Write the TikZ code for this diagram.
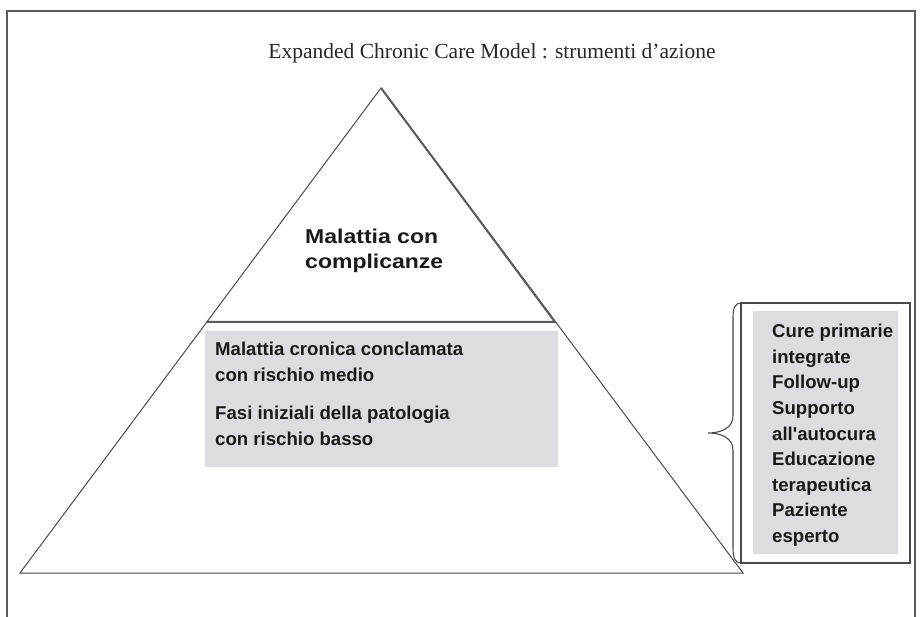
\documentclass[tikz,border=0pt]{standalone}
\usepackage{fontspec}
\setmainfont{Liberation Serif}
\setsansfont{Liberation Sans}
\definecolor{linegray}{HTML}{4A4A4A}
\definecolor{framegray}{HTML}{5A5A5A}
\definecolor{boxgray}{HTML}{DCDDE0}
\definecolor{txt}{HTML}{1A1A1A}
\begin{document}
\begin{tikzpicture}[x=1pt,y=-1pt,
  thinline/.style={draw=linegray,line width=1pt,line join=miter},
  thickline/.style={draw=framegray,line width=2pt},
  bodytext/.style={inner sep=0pt,text=txt,align=left,font=\sffamily\bfseries\fontsize{18.6}{26}\selectfont}]
\useasboundingbox (0,0) rectangle (921,617);
% frame
\draw[draw=framegray,line width=1.8pt] (7,617) -- (7,11) -- (915,11) -- (915,617);
% title
\node[anchor=base,inner sep=0pt,text=black!85,font=\fontsize{21.5}{24}\selectfont] (title) at (492,59) {Expanded Chronic Care Model : strumenti d’azione};
% pyramid
\coordinate (apex) at (381,88);
\coordinate (bl) at (20,573);
\coordinate (br) at (743,573);
\coordinate (ml) at (206,322);
\coordinate (mr) at (555,322);
\draw[thinline] (apex) -- (bl) -- (br) -- cycle;
\draw[thickline] (apex) -- (mr) -- (ml);
% gray box in pyramid
\fill[boxgray] (205,331) rectangle (558,467);
\node[bodytext,anchor=north west] (p1) at (215,342) {Malattia cronica conclamata\\con rischio medio};
\node[bodytext,anchor=north west] (p2) at (215,406) {Fasi iniziali della patologia\\con rischio basso};
% top label
\node[inner sep=0pt,anchor=north west,text=txt,align=left,font=\sffamily\bfseries\fontsize{20}{25}\selectfont,xscale=1.15] (top) at (305,229) {Malattia con\\complicanze};
% right box
\draw[draw=linegray,line width=1.5pt] (741,303) rectangle (910,563);
\fill[boxgray] (753,311) rectangle (898,554);
\node[bodytext,anchor=north west,font=\sffamily\bfseries\fontsize{18.6}{25.6}\selectfont] (tools) at (772,324) {Cure primarie\\integrate\\Follow-up\\Supporto\\all\textquotesingle autocura\\Educazione\\terapeutica\\Paziente\\esperto};
% brace
\draw[thinline,line width=1.1pt] (741,303) .. controls (735,303) and (733,308) .. (733,318) -- (733,416) .. controls (733,428) and (721,433) .. (708,433) .. controls (721,433) and (733,438) .. (733,450) -- (733,548) .. controls (733,558) and (735,563) .. (741,563);
\end{tikzpicture}
\end{document}
